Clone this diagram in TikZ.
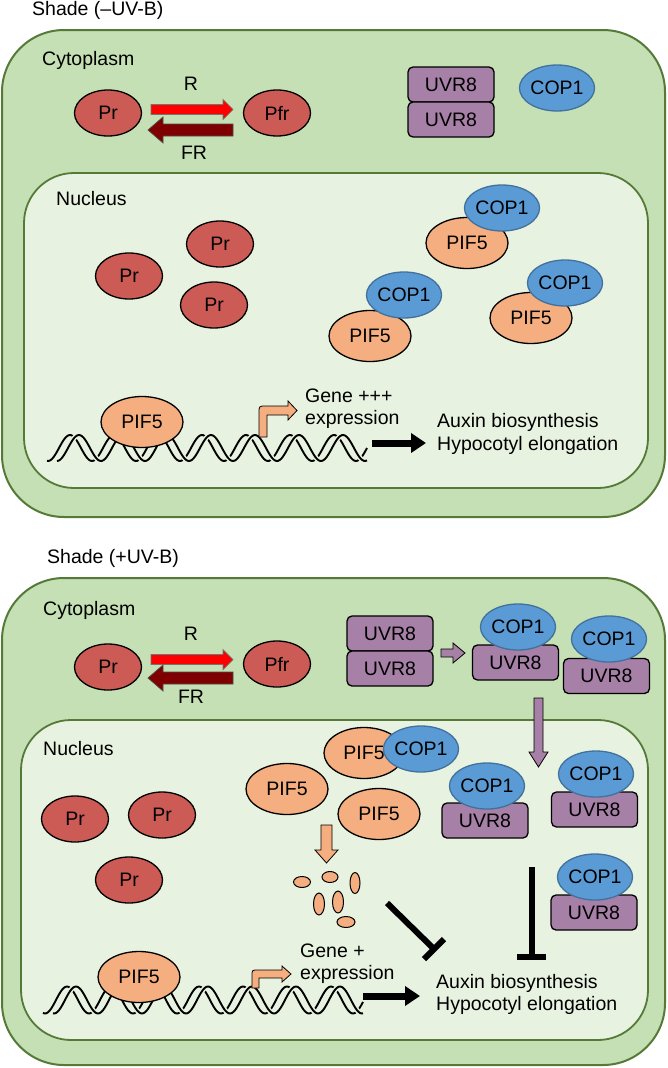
\documentclass[tikz,border=0pt]{standalone}
\usepackage{fontspec}
\setmainfont{Liberation Sans}
\usetikzlibrary{shapes.geometric,arrows.meta}
\definecolor{cellgreen}{HTML}{C5E0B4}
\definecolor{darkgreen}{HTML}{557A38}
\definecolor{nucgreen}{HTML}{E8F2E0}
\definecolor{prred}{HTML}{CC5A55}
\definecolor{piforange}{HTML}{F4AE80}
\definecolor{copblue}{HTML}{5B9BD5}
\definecolor{copedge}{HTML}{41719C}
\definecolor{uvrpurple}{HTML}{A680A6}
\definecolor{rred}{HTML}{FF0000}
\definecolor{frred}{HTML}{7F0000}
\tikzset{
  txt/.style={inner sep=0pt, font=\fontsize{19.5}{23}\selectfont},
  cell/.style={fill=cellgreen, draw=darkgreen, line width=2pt, rounded corners=62pt},
  nuc/.style={fill=nucgreen, draw=darkgreen, line width=1.8pt, rounded corners=50pt},
  prot/.style={ellipse, inner sep=0pt, line width=1.3pt, font=\fontsize{19.5}{23}\selectfont},
  pr/.style={prot, fill=prred, draw=black, minimum width=67pt, minimum height=46pt},
  pif/.style={prot, fill=piforange, draw=black, minimum width=82pt, minimum height=51pt},
  cop/.style={prot, fill=copblue, draw=copedge, minimum width=69pt, minimum height=46pt},
  uvr/.style={rectangle, rounded corners=5pt, inner sep=0pt, fill=uvrpurple, draw=black, line width=1.3pt,
    minimum width=86pt, minimum height=35pt, font=\fontsize{19.5}{23}\selectfont},
  frag/.style={ellipse, inner sep=0pt, fill=piforange, draw=black, line width=1pt},
  halo/.style={draw=nucgreen, line width=5pt},
  strand/.style={draw=black, line width=1.9pt},
  blockR/.style={fill=rred, draw=black!55, line width=0.7pt},
  blockFR/.style={fill=frred, draw=black!70, line width=0.7pt},
  blockP/.style={fill=uvrpurple, draw=black, line width=0.8pt},
  blockO/.style={fill=piforange, draw=black, line width=0.8pt},
  blackarrow/.style={line width=7pt, -{Triangle[length=15pt,width=19pt]}},
  inhib/.style={line width=6pt},
}
\begin{document}
\begin{tikzpicture}[x=1pt,y=-1pt]
\useasboundingbox (0,0) rectangle (668,1068);

%================ TOP PANEL ================
\node[txt, anchor=base west] (t1) at (32,16) {Shade (–UV-B)};
\draw[cell] (2,30) rectangle (665,517);
\node[txt, anchor=base west] (cyto1) at (42,65) {Cytoplasm};
\draw[nuc] (24,173) rectangle (648,488);
\node[txt, anchor=base west] (nuc1) at (56,205) {Nucleus};

% Pr <-> Pfr
\node[pr] (pr1) at (108,113) {Pr};
\node[pr] (pfr1) at (277,113) {Pfr};
\draw[blockR] (151,104.5) -- (223,104.5) -- (223,99.5) -- (233,109.5) -- (223,119.5) -- (223,114.5) -- (151,114.5) -- cycle;
\draw[blockFR] (233,124) -- (163,124) -- (163,117) -- (148,130) -- (163,143) -- (163,136) -- (233,136) -- cycle;
\node[txt, anchor=base] (r1) at (191,90.5) {R};
\node[txt, anchor=base] (fr1) at (194,159) {FR};

% UVR8 dimer and COP1
\node[uvr] (u1a) at (451,84.5) {UVR8};
\node[uvr] (u1b) at (451,119.5) {UVR8};
\node[cop] (c1) at (557,88) {COP1};

% nucleus Pr
\node[pr] (pr1a) at (220,244) {Pr};
\node[pr] (pr1b) at (129,276) {Pr};
\node[pr] (pr1c) at (214,305) {Pr};

% PIF5-COP1 complexes
\node[pif] (p1a) at (467,243) {PIF5};
\node[cop] (c1a) at (502,208) {COP1};
\node[pif] (p1b) at (370,336) {PIF5};
\node[cop] (c1b) at (404,295) {COP1};
\node[pif] (p1c) at (531,318) {PIF5};
\node[cop] (c1c) at (565,283) {COP1};

% DNA helix
\draw[halo] plot[domain=47:367, samples=200, smooth] (\x, {448 - 13*cos((\x-70)/44*360)});
\draw[strand] plot[domain=47:367, samples=200, smooth] (\x, {448 - 13*cos((\x-70)/44*360)});
\draw[halo] plot[domain=57:367, samples=200, smooth] (\x, {448 - 13*cos((\x-79)/44*360)});
\draw[strand] plot[domain=57:367, samples=200, smooth] (\x, {448 - 13*cos((\x-79)/44*360)});
\node[pif] (p1d) at (142,422) {PIF5};
% gene arrow
\draw[blockO] (259,437) -- (259,413) .. controls (259,406) .. (266,406) -- (288,406) -- (288,401) -- (297,410.5) -- (288,420) -- (288,415) -- (267,415) -- (267,437) -- cycle;
\node[txt, anchor=base west] (g1a) at (305,402) {Gene +++};
\node[txt, anchor=base west] (g1b) at (305,424) {expression};
\coordinate (a1s) at (372,443);
\coordinate (a1e) at (426,443);
\draw[blackarrow] (a1s) -- (a1e);
\node[txt, anchor=base west] (ax1) at (437,427) {Auxin biosynthesis};
\node[txt, anchor=base west] (hy1) at (437,450) {Hypocotyl elongation};

%================ BOTTOM PANEL ================
\node[txt, anchor=base west] (t2) at (47,563) {Shade (+UV-B)};
\draw[cell] (2,578) rectangle (665,1065);
\node[txt, anchor=base west] (cyto2) at (43,615) {Cytoplasm};
\draw[nuc] (21,720) rectangle (648,1040);
\node[txt, anchor=base west] (nuc2) at (43,755) {Nucleus};

% Pr <-> Pfr
\node[pr] (pr2) at (108,667) {Pr};
\node[pr] (pfr2) at (277,664) {Pfr};
\draw[blockR] (151,654.5) -- (223,654.5) -- (223,649.5) -- (233,659.5) -- (223,669.5) -- (223,664.5) -- (151,664.5) -- cycle;
\draw[blockFR] (233,672) -- (163,672) -- (163,665) -- (148,678) -- (163,691) -- (163,684) -- (233,684) -- cycle;
\node[txt, anchor=base] (r2) at (191,640) {R};
\node[txt, anchor=base] (fr2) at (191,703) {FR};

% UVR8 dimer -> monomer + COP1
\node[uvr] (u2a) at (390,633.5) {UVR8};
\node[uvr] (u2b) at (390,668.5) {UVR8};
\draw[blockP] (441,649) -- (453,649) -- (453,643) -- (465,653) -- (453,663) -- (453,657) -- (441,657) -- cycle;
\node[uvr] (u2c) at (515.5,662.5) {UVR8};
\node[cop] (c2c) at (518,627) {COP1};
\node[uvr] (u2d) at (606.5,676) {UVR8};
\node[cop] (c2d) at (609,639) {COP1};
% purple down arrow into nucleus
\draw[blockP] (534,698) -- (543,698) -- (543,752) -- (548,752) -- (538.5,767) -- (529,752) -- (534,752) -- cycle;

% nucleus Pr
\node[pr] (pr2a) at (75,819) {Pr};
\node[pr] (pr2b) at (162,815) {Pr};
\node[pr] (pr2c) at (129,880) {Pr};

% PIF5s
\node[pif, minimum width=80pt] (p2a) at (364,753) {PIF5};
\node[cop] (c2a) at (421,749) {COP1};
\node[pif] (p2b) at (287,789) {PIF5};
\node[pif] (p2c) at (379,814) {PIF5};
% orange down arrow
\draw[blockO] (321,825) -- (332,825) -- (332,850) -- (338,850) -- (326.5,863) -- (315,850) -- (321,850) -- cycle;
% fragments
\node[frag, minimum width=17pt, minimum height=11pt] (f1) at (302,882) {};
\node[frag, minimum width=16pt, minimum height=11pt] (f2) at (330,877) {};
\node[frag, minimum width=10pt, minimum height=21pt] (f3) at (355,883) {};
\node[frag, minimum width=11pt, minimum height=22pt] (f4) at (319,904) {};
\node[frag, minimum width=11pt, minimum height=22pt] (f5) at (338,902) {};
\node[frag, minimum width=18pt, minimum height=11pt] (f6) at (346,922) {};

% COP1-UVR8 in nucleus
\node[uvr] (u2e) at (485,820.5) {UVR8};
\node[cop] (c2e) at (487,786) {COP1};
\node[uvr] (u2f) at (594.5,809.5) {UVR8};
\node[cop] (c2f) at (596,774) {COP1};
\node[uvr] (u2g) at (594,912.5) {UVR8};
\node[cop] (c2g) at (595,877) {COP1};

% inhibition lines
\coordinate (i1s) at (387,903);
\coordinate (i1e) at (434,949);
\coordinate (i1a) at (424,959);
\coordinate (i1b) at (444,939);
\draw[inhib] (i1s) -- (i1e);
\draw[inhib] (i1a) -- (i1b);
\coordinate (i2s) at (531.5,867);
\coordinate (i2e) at (531.5,957);
\coordinate (i2a) at (517,957);
\coordinate (i2b) at (546,957);
\draw[inhib] (i2s) -- (i2e);
\draw[inhib] (i2a) -- (i2b);

% DNA helix
\draw[halo] plot[domain=43:363, samples=200, smooth] (\x, {1000 - 13.5*cos((\x-67)/44*360)});
\draw[strand] plot[domain=43:363, samples=200, smooth] (\x, {1000 - 13.5*cos((\x-67)/44*360)});
\draw[halo] plot[domain=53:363, samples=200, smooth] (\x, {1000 - 13.5*cos((\x-76)/44*360)});
\draw[strand] plot[domain=53:363, samples=200, smooth] (\x, {1000 - 13.5*cos((\x-76)/44*360)});
\node[pif] (p2d) at (139,977) {PIF5};
\draw[blockO] (252,988) -- (252,976) .. controls (252,970) .. (258,970) -- (282,970) -- (282,966) -- (291,974) -- (282,982) -- (282,978) -- (259,978) -- (259,988) -- cycle;
\node[txt, anchor=base west] (g2a) at (300,957) {Gene +};
\node[txt, anchor=base west] (g2b) at (300,979) {expression};
\coordinate (a2s) at (363,996);
\coordinate (a2e) at (420,996);
\draw[blackarrow] (a2s) -- (a2e);
\node[txt, anchor=base west] (ax2) at (436,988) {Auxin biosynthesis};
\node[txt, anchor=base west] (hy2) at (436,1010) {Hypocotyl elongation};
\end{tikzpicture}
\end{document}
